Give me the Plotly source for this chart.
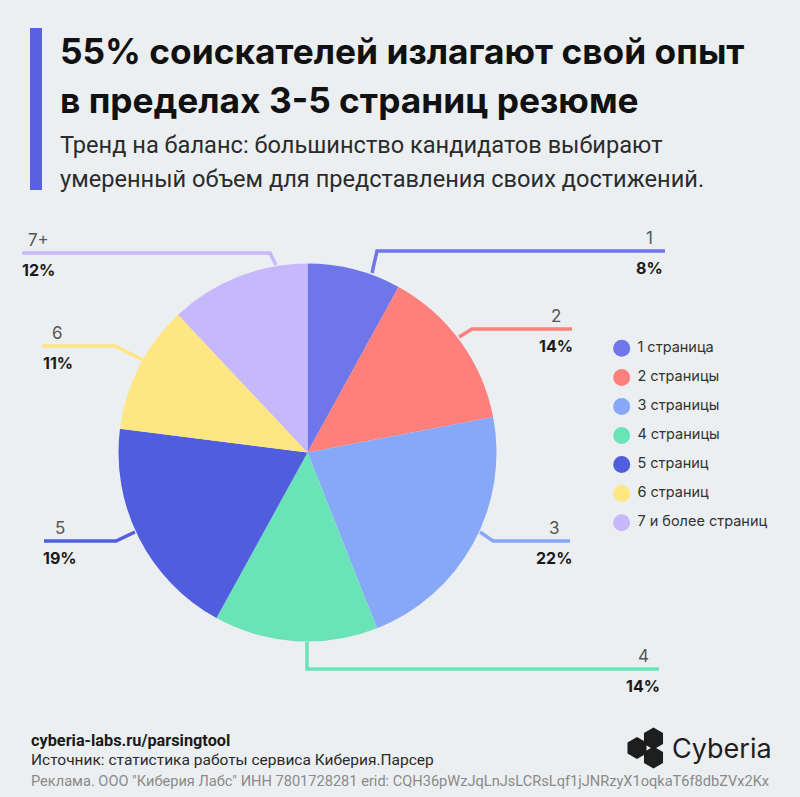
import math
import plotly.graph_objects as go

W, H = 800, 797
BG = "#ECEFF1"

# ---- data ----
short_labels = ["1", "2", "3", "4", "5", "6", "7+"]
legend_labels = ["1 страница", "2 страницы", "3 страницы", "4 страницы",
                 "5 страниц", "6 страниц", "7 и более страниц"]
values = [8, 14, 22, 14, 19, 11, 12]
colors = ["#6E76EA", "#FF7F7B", "#87A7F7", "#6AE3B8", "#505DDD", "#FEE683", "#C7B8FC"]

title_lines = ["55% соискателей излагают свой опыт", "в пределах 3-5 страниц резюме"]
subtitle_lines = ["Тренд на баланс: большинство кандидатов выбирают",
                  "умеренный объем для представления своих достижений."]

# ---- layout helpers (pixels -> paper) ----
def px(x):
    return x / W

def py(y):
    return 1 - y / H

CX, CY, R = 307.5, 452.5, 189

fig = go.Figure()
fig.add_trace(go.Pie(
    labels=legend_labels, values=values, sort=False, direction="clockwise",
    rotation=0, marker=dict(colors=colors, line=dict(width=0)),
    textinfo="none", hoverinfo="label+percent", showlegend=False,
    domain=dict(x=[px(CX - R), px(CX + R)], y=[py(CY + R), py(CY - R)]),
))

# legend as markers on a hidden axis
fig.add_trace(go.Scatter(
    x=[0.0616] * len(legend_labels), y=list(range(len(legend_labels))),
    mode="markers+text", text=[" " + t for t in legend_labels], textposition="middle right",
    marker=dict(size=17, color=colors), textfont=dict(family="Inter", size=14.5, color="#333333"),
    xaxis="x", yaxis="y", showlegend=False, hoverinfo="skip", cliponaxis=False,
))

shapes = []
annotations = []

# leader lines: (start, elbow, end) in pixels, side
leaders = [
    ((372, 273), (377, 251), (665, 251), "r"),
    ((459, 337), (472, 329), (572, 329), "r"),
    ((480, 532), (493, 541), (570, 541), "r"),
    ((307, 642), (307, 669), (659, 669), "r"),
    ((135, 532), (116, 541), (44, 541), "l"),
    ((143, 360), (115, 346), (42, 346), "l"),
    ((276, 265), (270, 253), (22, 253), "l"),
]
for i, (s, e, t, side) in enumerate(leaders):
    path = f"M {px(s[0])},{py(s[1])} L {px(e[0])},{py(e[1])} L {px(t[0])},{py(t[1])}"
    shapes.append(dict(type="path", xref="paper", yref="paper", path=path,
                       line=dict(color=colors[i], width=3.5)))
    lx = t[0] - 16 if side == "r" else t[0] + 16
    annotations.append(dict(x=px(lx), y=py(t[1] - 13), xref="paper", yref="paper",
                            text=short_labels[i], showarrow=False, xanchor="center", yanchor="middle",
                            font=dict(family="Inter", size=17, color="#555555")))
    annotations.append(dict(x=px(lx), y=py(t[1] + 17), xref="paper", yref="paper",
                            text=f"<b>{values[i]}%</b>", showarrow=False, xanchor="center", yanchor="middle",
                            font=dict(family="Inter", size=16, color="#1A1A1A")))

# title bar
shapes.append(dict(type="rect", xref="paper", yref="paper", x0=px(30), x1=px(42), y0=py(190), y1=py(28),
                   fillcolor="#5A61E0", line=dict(width=0), layer="above"))

for k, line in enumerate(title_lines):
    annotations.append(dict(x=px(58), y=py(52 + 48 * k), xref="paper", yref="paper", text=f"<b>{line}</b>",
                            showarrow=False, xanchor="left", yanchor="middle",
                            font=dict(family="Inter", size=35.3, color="#111111")))
for k, line in enumerate(subtitle_lines):
    annotations.append(dict(x=px(58), y=py(145 + 34 * k), xref="paper", yref="paper", text=line,
                            showarrow=False, xanchor="left", yanchor="middle",
                            font=dict(family="Roboto", size=23.6, color="#2B2B2B")))

# footer
annotations.append(dict(x=px(29), y=py(740), xref="paper", yref="paper", text="<b>cyberia-labs.ru/parsingtool</b>",
                        showarrow=False, xanchor="left", yanchor="middle",
                        font=dict(family="Roboto", size=16.3, color="#1A1A1A")))
annotations.append(dict(x=px(29), y=py(760), xref="paper", yref="paper",
                        text="Источник: статистика работы сервиса Киберия.Парсер",
                        showarrow=False, xanchor="left", yanchor="middle",
                        font=dict(family="Roboto", size=15.5, color="#2B2B2B")))
annotations.append(dict(x=px(29), y=py(781), xref="paper", yref="paper",
                        text='Реклама. ООО "Киберия Лабс" ИНН 7801728281 erid: CQH36pWzJqLnJsLCRsLqf1jJNRzyX1oqkaT6f8dbZVx2Kx',
                        showarrow=False, xanchor="left", yanchor="middle",
                        font=dict(family="Roboto", size=14.6, color="#8A8A8A")))

# logo: three pointy-top hexagons + wordmark
annotations.append(dict(x=px(670), y=py(748), xref="paper", yref="paper", text="Cyberia",
                        showarrow=False, xanchor="left", yanchor="middle",
                        font=dict(family="Inter", size=27, color="#1E1E1E")))

def hexagon(cx, cy, s):
    pts = [(cx + s * math.cos(math.radians(90 + 60 * k)), cy - s * math.sin(math.radians(90 + 60 * k)))
           for k in range(6)]
    return "M " + " L ".join(f"{px(a)},{py(b)}" for a, b in pts) + " Z"

for c in [(637, 748), (653.5, 738.5), (653.5, 757.5)]:
    shapes.append(dict(type="path", xref="paper", yref="paper", path=hexagon(c[0], c[1], 11),
                       fillcolor="#1E1E1E", line=dict(width=0)))

fig.update_layout(
    width=W, height=H, margin=dict(l=0, r=0, t=0, b=0),
    paper_bgcolor=BG, plot_bgcolor=BG,
    shapes=shapes, annotations=annotations,
    xaxis=dict(domain=[px(610), px(800)], range=[0, 1], visible=False, fixedrange=True),
    yaxis=dict(domain=[py(537.2), py(333.8)], range=[6.5, -0.5], visible=False, fixedrange=True),
    showlegend=False,
)

fig.write_html(
    "out.html",
    config={"displayModeBar": False},
    post_script=f"document.body.style.margin='0';document.body.style.overflow='hidden';"
                f"document.body.style.background='{BG}';document.documentElement.style.background='{BG}';",
)
